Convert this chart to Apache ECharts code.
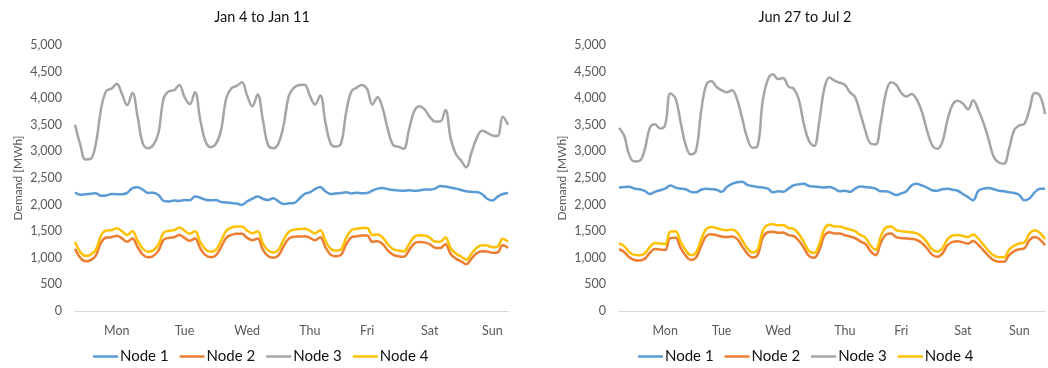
<!DOCTYPE html>
<html>
<head>
<meta charset="utf-8">
<script src="https://cdn.jsdelivr.net/npm/echarts@6/dist/echarts.min.js"></script>
<style>
  html, body { margin: 0; padding: 0; background: #fff; }
  #chart { width: 1048px; height: 368px; }
</style>
</head>
<body>
<div id="chart"></div>
<script>
// Two-hourly demand per node (MWh), Monday 00:00 to Sunday 22:00
const seriesNames = ['Node 1', 'Node 2', 'Node 3', 'Node 4'];
const dayNames = ['Mon', 'Tue', 'Wed', 'Thu', 'Fri', 'Sat', 'Sun'];
const panelTitles = ['Jan 4 to Jan 11', 'Jun 27 to Jul 2'];
const yTicks = { min: 0, max: 5000, step: 500 };

// where each day name sits along the two-hourly axis
const janDayLabelAt = [8, 21, 33, 45, 56, 68, 80];
const junDayLabelAt = [9, 20, 31, 44, 55, 67, 78];

const janNode1 = [2230,2185,2195,2205,2215,2165,2170,2200,2195,2195,2220,2310,
  2325,2280,2220,2225,2180,2070,2060,2075,2070,2085,2080,2150,
  2130,2090,2080,2085,2050,2040,2030,2020,1995,2060,2110,2150,
  2110,2085,2120,2060,2010,2025,2030,2110,2200,2230,2290,2330,
  2250,2200,2210,2220,2230,2210,2225,2215,2220,2260,2300,2310,
  2290,2275,2265,2260,2270,2260,2265,2285,2280,2300,2350,2340,
  2320,2300,2275,2250,2240,2235,2200,2110,2075,2150,2200,2220];
const janNode2 = [1170,1000,935,955,1040,1290,1380,1385,1415,1365,1300,1365,
  1200,1060,1010,1035,1135,1340,1375,1385,1430,1375,1320,1365,
  1180,1050,1010,1045,1200,1375,1430,1450,1450,1375,1330,1365,
  1155,1035,1000,1045,1220,1360,1395,1400,1405,1375,1330,1385,
  1200,1060,1030,1055,1255,1385,1405,1420,1420,1300,1310,1255,
  1135,1055,1030,1020,1135,1265,1295,1290,1255,1190,1185,1255,
  1070,985,935,880,985,1085,1125,1120,1095,1100,1235,1185];
const janNode3 = [3500,3130,2850,2860,3150,3800,4140,4180,4270,4080,3870,4100,
  3650,3150,3060,3120,3350,4000,4130,4150,4250,4020,3890,4110,
  3600,3190,3080,3140,3400,4000,4190,4230,4300,4050,3850,4070,
  3600,3120,3060,3150,3500,4050,4200,4250,4255,4050,3880,4050,
  3550,3150,3090,3150,3750,4130,4200,4250,4170,3880,4020,3800,
  3400,3120,3090,3050,3400,3750,3850,3790,3650,3560,3560,3780,
  3250,2950,2830,2700,2980,3250,3390,3350,3300,3290,3650,3500];
const janNode4 = [1300,1110,1035,1060,1150,1420,1515,1520,1555,1500,1430,1500,
  1320,1170,1115,1140,1250,1470,1510,1520,1570,1510,1450,1500,
  1300,1160,1115,1150,1320,1510,1570,1590,1590,1510,1460,1500,
  1270,1140,1100,1150,1340,1490,1530,1540,1545,1510,1460,1520,
  1320,1170,1135,1160,1380,1520,1545,1560,1560,1430,1440,1380,
  1250,1160,1135,1120,1250,1390,1425,1420,1380,1305,1300,1380,
  1180,1080,1025,965,1080,1190,1235,1230,1200,1210,1360,1300];

const junNode1 = [2320,2330,2335,2300,2290,2260,2200,2240,2270,2300,2360,2320,
  2300,2290,2240,2230,2280,2300,2290,2280,2240,2330,2390,2420,
  2430,2370,2350,2330,2320,2300,2230,2250,2240,2300,2360,2380,
  2390,2350,2340,2330,2320,2330,2300,2250,2260,2240,2300,2340,
  2330,2320,2300,2250,2250,2220,2180,2210,2250,2360,2390,2360,
  2320,2270,2260,2290,2300,2280,2260,2200,2140,2080,2260,2300,
  2310,2290,2260,2250,2230,2220,2180,2080,2120,2230,2300,2300];
const junNode2 = [1160,1110,1010,960,950,980,1090,1165,1155,1145,1370,1375,
  1185,1040,960,1000,1220,1410,1445,1425,1400,1390,1400,1355,
  1215,1080,1005,1050,1375,1480,1490,1470,1475,1425,1410,1325,
  1190,1035,1000,1140,1410,1480,1455,1455,1425,1400,1370,1310,
  1260,1125,1050,1280,1435,1455,1390,1370,1365,1355,1335,1280,
  1180,1060,1020,1080,1235,1300,1310,1290,1270,1315,1245,1140,
  1035,955,925,925,1050,1125,1160,1180,1335,1390,1345,1235];
const junNode3 = [3440,3300,2930,2810,2820,3030,3440,3510,3430,3500,4090,4000,
  3550,3120,2940,3010,3750,4250,4320,4210,4150,4110,4150,3980,
  3620,3250,3070,3100,3950,4350,4450,4360,4380,4220,4180,3990,
  3520,3200,3100,3550,4180,4390,4330,4290,4250,4110,4020,3720,
  3390,3150,3130,3550,4100,4300,4250,4100,4030,4080,3980,3750,
  3400,3120,3050,3180,3590,3880,3950,3900,3790,3960,3780,3540,
  3230,2900,2790,2770,3050,3400,3490,3520,3800,4100,4050,3700];
const junNode4 = [1270,1220,1110,1055,1050,1080,1200,1280,1270,1260,1490,1500,
  1300,1140,1050,1100,1340,1540,1580,1560,1530,1520,1530,1480,
  1330,1180,1100,1150,1500,1620,1630,1610,1615,1560,1545,1450,
  1300,1130,1090,1250,1540,1620,1590,1590,1560,1530,1500,1430,
  1380,1230,1150,1400,1570,1590,1520,1500,1490,1480,1460,1400,
  1290,1160,1115,1180,1350,1420,1430,1410,1390,1440,1360,1250,
  1130,1045,1010,1010,1150,1230,1270,1290,1460,1520,1470,1350];

const colors = ['#5B9BD5', '#ED7D31', '#A5A5A5', '#FFC000'];
const FONT = 'Lato, "Open Sans", sans-serif';

function buildCategories(count, labelAt) {
  const cats = new Array(count).fill('');
  labelAt.forEach((idx, d) => { cats[idx] = dayNames[d]; });
  return cats;
}

const panels = [
  { data: [janNode1, janNode2, janNode3, janNode4], labelAt: janDayLabelAt, left: 75, titleX: 262, legendX: 93 },
  { data: [junNode1, junNode2, junNode3, junNode4], labelAt: junDayLabelAt, left: 619, titleX: 805, legendX: 638 }
];

const option = {
  animation: false,
  backgroundColor: '#fff',
  textStyle: { fontFamily: FONT },
  title: panels.map((p, k) => ({
    text: panelTitles[k],
    left: p.titleX,
    top: 10,
    padding: 0,
    textAlign: 'center',
    textStyle: { fontFamily: FONT, fontSize: 14.5, fontWeight: 'normal', color: '#111' }
  })),
  legend: panels.map(p => ({
    data: seriesNames,
    icon: 'rect',
    left: p.legendX,
    top: 349,
    padding: 0,
    itemWidth: 25,
    itemHeight: 2.5,
    itemGap: 11,
    textStyle: { fontFamily: FONT, fontSize: 15, color: '#111', padding: [0, 0, 0, -3] }
  })),
  grid: panels.map(p => ({ left: p.left, top: 45, width: 433, height: 266 })),
  xAxis: panels.map((p, k) => ({
    type: 'category',
    gridIndex: k,
    boundaryGap: false,
    data: buildCategories(p.data[0].length, p.labelAt),
    axisLine: { show: true, lineStyle: { color: '#d9d9d9', width: 1 } },
    axisTick: { show: false },
    splitLine: { show: false },
    axisLabel: { interval: 0, margin: 13, color: '#595959', fontFamily: FONT, fontSize: 12.5 }
  })),
  yAxis: panels.map((p, k) => ({
    type: 'value',
    gridIndex: k,
    min: yTicks.min,
    max: yTicks.max,
    interval: yTicks.step,
    name: 'Demand [MWh]',
    nameLocation: 'middle',
    nameGap: 51,
    nameTextStyle: { fontFamily: FONT, fontSize: 12, color: '#595959' },
    axisLine: { show: false },
    axisTick: { show: false },
    splitLine: { show: false },
    axisLabel: {
      margin: 13,
      color: '#595959',
      fontFamily: FONT,
      fontSize: 12.5,
      formatter: v => v.toLocaleString('en-US')
    }
  })),
  series: []
};

panels.forEach((p, k) => {
  p.data.forEach((vals, s) => {
    option.series.push({
      name: seriesNames[s],
      type: 'line',
      xAxisIndex: k,
      yAxisIndex: k,
      data: vals,
      smooth: 0.4,
      symbol: 'none',
      color: colors[s],
      lineStyle: { width: 2.5, color: colors[s] }
    });
  });
});

const chart = echarts.init(document.getElementById('chart'), null, { renderer: 'canvas' });
chart.setOption(option);
</script>
</body>
</html>
